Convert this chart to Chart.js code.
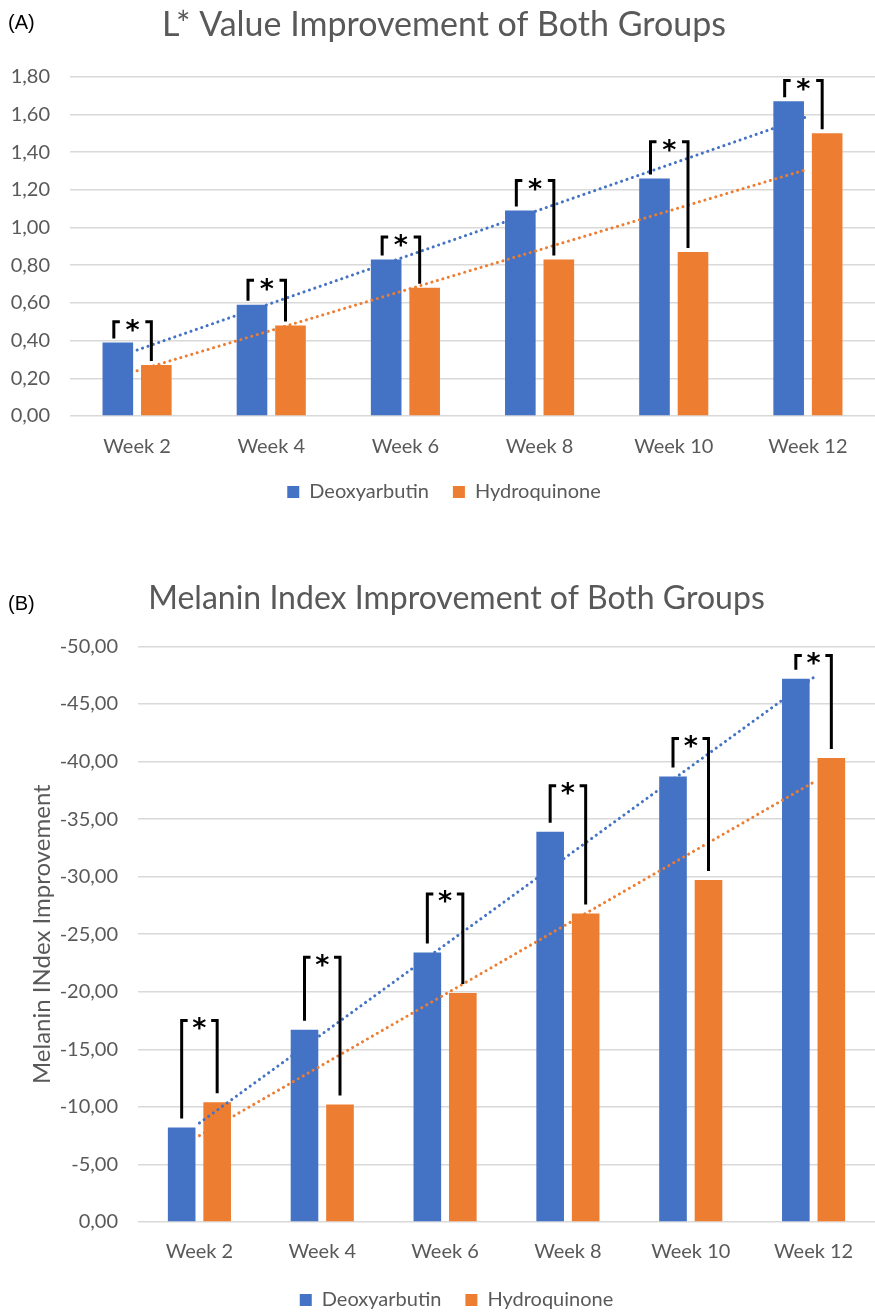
<!DOCTYPE html>
<html>
<head>
<meta charset="utf-8">
<script src="https://cdn.jsdelivr.net/npm/chart.js@4.4.1/dist/chart.umd.min.js"></script>
<style>
  body { margin: 0; background: #fff; width: 875px; height: 1312px; overflow: hidden; position: relative; }
  .panel { position: absolute; left: 0; width: 875px; }
  .tag { position: absolute; left: 8px; font: 20px "Liberation Sans", Arial, sans-serif; color: #000; }
</style>
</head>
<body>
<div class="panel" style="top:0;height:540px"><canvas id="chartA" width="875" height="540"></canvas></div>
<div class="tag" style="top:11px">(A)</div>
<div class="panel" style="top:540px;height:800px"><canvas id="chartB" width="875" height="800"></canvas></div>
<div class="tag" style="top:592px">(B)</div>
<script>
const weeks = ["Week 2", "Week 4", "Week 6", "Week 8", "Week 10", "Week 12"];

// (A) L* value
const lDeoxy = [0.39, 0.59, 0.83, 1.09, 1.26, 1.67];
const lHydro = [0.27, 0.48, 0.68, 0.83, 0.87, 1.50];
const lBracketTop = [0.50, 0.72, 0.95, 1.25, 1.455, 1.78];
const lTrendDeoxy = [0.35, null, null, null, null, 1.59];
const lTrendHydro = [0.24, null, null, null, null, 1.31];
const lTicks = [0, 0.2, 0.4, 0.6, 0.8, 1.0, 1.2, 1.4, 1.6, 1.8];

// (B) melanin index
const mDeoxy = [-8.2, -16.7, -23.4, -33.9, -38.7, -47.2];
const mHydro = [-10.4, -10.2, -19.9, -26.8, -29.7, -40.3];
const mBracketTop = [-17.5, -23.0, -28.5, -37.9, -42.0, -49.2];
const mTrendDeoxy = [-8.6, null, null, null, null, -47.3];
const mTrendHydro = [-7.5, null, null, null, null, -38.2];
const mTicks = [0, -5, -10, -15, -20, -25, -30, -35, -40, -45, -50];

const BLUE = "#4472C4";
const ORANGE = "#ED7D31";
const TEXT = "#595959";
const GRID = "#d9d9d9";
const FONT = "Lato, 'Open Sans', sans-serif";

const fmt = v => v.toFixed(2).replace(".", ",");

// significance brackets: from blue bar up, across with a star, down to orange bar
const bracketPlugin = {
    id: "brackets",
    afterDatasetsDraw(chart, args, opts) {
        const ctx = chart.ctx;
        const yScale = chart.scales.y;
        const m0 = chart.getDatasetMeta(0);
        const m1 = chart.getDatasetMeta(1);
        ctx.save();
        ctx.strokeStyle = "#000";
        ctx.fillStyle = "#000";
        ctx.lineWidth = opts.lineWidth;
        ctx.font = opts.starFont;
        ctx.textAlign = "center";
        ctx.textBaseline = "alphabetic";
        const m = ctx.measureText("*");
        const starShift = (m.actualBoundingBoxAscent - m.actualBoundingBoxDescent) / 2;
        opts.tops.forEach((top, i) => {
            const b0 = m0.data[i], b1 = m1.data[i];
            const xL = b0.x + opts.offL;
            const xR = b1.x + opts.offR;
            const yT = yScale.getPixelForValue(top);
            ctx.beginPath();
            ctx.moveTo(xL, b0.y - opts.gap);
            ctx.lineTo(xL, yT);
            ctx.lineTo(xL + opts.stub, yT);
            ctx.moveTo(xR - opts.stub, yT);
            ctx.lineTo(xR, yT);
            ctx.lineTo(xR, b1.y - opts.gap);
            ctx.stroke();
            ctx.fillText("*", (xL + xR) / 2, yT + opts.starDy + starShift);
        });
        ctx.restore();
    }
};

function trend(data, color) {
    return {
        type: "line",
        data: data,
        borderColor: color,
        borderWidth: 3,
        borderDash: [0.1, 5.6],
        borderCapStyle: "round",
        pointRadius: 0,
        spanGaps: true,
        fill: false,
        order: 0
    };
}

function makeChart(id, o) {
    const tickFont = { family: FONT, size: 20 };
    return new Chart(document.getElementById(id), {
        type: "bar",
        data: {
            labels: weeks,
            datasets: [
                { label: "Deoxyarbutin", data: o.deoxy, backgroundColor: BLUE, order: 1,
                  categoryPercentage: o.catPct, barPercentage: o.barPct },
                { label: "Hydroquinone", data: o.hydro, backgroundColor: ORANGE, order: 1,
                  categoryPercentage: o.catPct, barPercentage: o.barPct },
                trend(o.trendDeoxy, BLUE),
                trend(o.trendHydro, ORANGE)
            ]
        },
        options: {
            responsive: false,
            animation: false,
            layout: { padding: { left: o.padL, right: o.padR, top: 0, bottom: o.padB } },
            plugins: {
                title: {
                    display: true,
                    text: o.title,
                    color: TEXT,
                    font: { family: FONT, size: o.titleSize, weight: "normal" },
                    padding: { top: o.titleTop, bottom: o.titleBottom }
                },
                legend: {
                    position: "bottom",
                    labels: {
                        filter: item => item.datasetIndex < 2,
                        boxWidth: 12,
                        boxHeight: 12,
                        padding: 24,
                        color: TEXT,
                        font: tickFont
                    }
                },
                tooltip: { enabled: false },
                brackets: o.brackets
            },
            scales: {
                x: {
                    grid: { display: false, drawTicks: false },
                    border: { display: false },
                    ticks: { color: TEXT, font: tickFont, padding: o.xPad },
                    afterFit: s => { s.height = o.xH; }
                },
                y: {
                    min: o.min,
                    max: o.max,
                    reverse: o.reverse,
                    grid: { color: GRID, lineWidth: 1.5, drawTicks: false },
                    border: { display: false },
                    ticks: { color: TEXT, font: tickFont, padding: 20, callback: v => fmt(v) },
                    afterBuildTicks: s => { s.ticks = o.ticks.map(v => ({ value: v })); },
                    afterFit: s => { s.width = o.yW; },
                    title: o.yTitle
                }
            }
        },
        plugins: [bracketPlugin]
    });
}

makeChart("chartA", {
    title: "L* Value Improvement of Both Groups",
    deoxy: lDeoxy, hydro: lHydro, trendDeoxy: lTrendDeoxy, trendHydro: lTrendHydro,
    ticks: lTicks, min: 0, max: 1.8, reverse: false,
    catPct: 0.574, barPct: 0.795,
    padL: 4, padR: -9, padB: 28,
    titleSize: 34, titleTop: 5, titleBottom: 31,
    yW: 66, xH: 42, xPad: 19,
    yTitle: { display: false },
    brackets: { tops: lBracketTop, gap: 4, offL: -4, offR: -5, stub: 6, lineWidth: 3,
                starFont: "bold 27px 'DejaVu Sans'", starDy: 4 }
});

makeChart("chartB", {
    title: "Melanin Index Improvement of Both Groups",
    deoxy: mDeoxy, hydro: mHydro, trendDeoxy: mTrendDeoxy, trendHydro: mTrendHydro,
    ticks: mTicks, min: -50, max: 0, reverse: true,
    catPct: 0.578, barPct: 0.778,
    padL: 28, padR: -10, padB: 20,
    titleSize: 32, titleTop: 39, titleBottom: 29,
    yW: 110, xH: 44, xPad: 18,
    yTitle: { display: true, text: "Melanin INdex Improvement", color: TEXT,
              font: { family: FONT, size: 24 }, padding: { top: 0, bottom: 0 } },
    brackets: { tops: mBracketTop, gap: 9, offL: 0, offR: 0, stub: 6, lineWidth: 3,
                starFont: "bold 27px 'DejaVu Sans'", starDy: 3 }
});
</script>
</body>
</html>
